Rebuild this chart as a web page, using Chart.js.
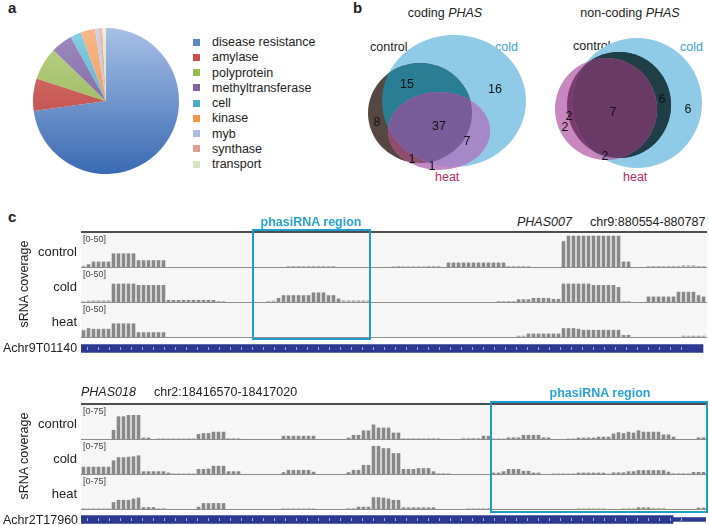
<!DOCTYPE html>
<html>
<head>
<meta charset="utf-8">
<script src="https://cdn.jsdelivr.net/npm/chart.js@4.4.0/dist/chart.umd.min.js"></script>
<style>
  body { margin: 0; background: #fff; }
  #page { position: relative; width: 709px; height: 525px; overflow: hidden;
          font-family: Arial, "Liberation Sans", sans-serif; color: #222; }
  #page canvas, .abs { position: absolute; }
  .txt { position: absolute; white-space: nowrap; line-height: 16px; font-size: 12.5px; }
  .trackbox { position: absolute; background: #f6f6f6; }
  .hline { position: absolute; height: 1px; background: #8c8c8c; }
  .phasi { position: absolute; box-sizing: border-box; border: 2.5px solid #1f9ccf; }
</style>
</head>
<body>
<div id="page"></div>
<script>
// --- DATA ---

// panel a: PHAS gene annotation
const pieLabels = ['disease resistance', 'amylase', 'polyprotein', 'methyltransferase', 'cell', 'kinase', 'myb', 'synthase', 'transport'];
const pieValues = [91, 9, 9, 6, 3, 4, 1, 1, 1];
const pieColors = ['#5b86c6', '#c9504c', '#9bbb59', '#8064a2', '#4bacc6', '#f79646', '#a9bce0', '#e39c94', '#d7e4bd'];
const pieLight  = ['#a8c0e6', '#e07a76', '#bcd58a', '#a08cc0', '#86cfe2', '#f9b889', '#c8d6ef', '#f2bab2', '#e8f0d6'];
const pieDark   = ['#3a6ab4', '#b03c39', '#89a844', '#6a4f90', '#3aa0bc', '#e8843c', '#9fb5dc', '#d98a80', '#c9dba8'];

// panel b: venn counts (control / cold / heat)
const codingCounts    = [15, 16, 8, 37, 7, 1, 1];
const nonCodingCounts = [2, 2, 7, 6, 6, 2];

// panel c: sRNA coverage, 125 bins per locus
const ctrl1 = [
  2,4,8,8,8,8,20,20,20,20,20,10,10,10,10,10,10,0,0,0,0,0,0,0,0,
  0,0,0,0,0,0,0,0,0,0,0,0,0,0,0,0,1.5,1.5,1.5,1.5,1.5,1.5,1.5,1.5,1.5,
  1.5,0,0,0,0,0,0,0,0,0,0,0,1,1.5,1,1,1,1,1,1.5,1.5,1.5,0,6.5,6.5,
  6.5,6.5,6.5,6.5,6.5,6.5,6.5,6.5,6.5,6.5,1.5,1.5,1.5,1.5,1.5,0,0,0,0,0,0,38,46,46,46,
  46,46,46,46,46,46,46,46,8,8,0,0,0,1.5,1.5,1.5,1.5,1.5,1.5,1.5,2.5,2.5,2.5,1.5,1.5
];
const cold1 = [
  1,2,2.5,2.5,2.5,2.5,27,27,27,27,27,25,25,25,25,25,25,3,3,3,3,3,3,3,3,
  3,3,1.5,1.5,0,0,0,0,0,0,0,0,1.5,2,6,10,10,10,10,10,10,14,14,14,10,
  10,5,2.5,2.5,2.5,2.5,2.5,2.5,0,0,0,0,0,0,0,0,0,0,0,0,0,0,0,0,0,
  0,0,0,0,0,0,0,0,1.5,1.5,1.5,1.5,4,4,4,6,6,6,6,4.5,4.5,27,27,27,27,
  27,27,25,25,25,25,25,22,1.5,1.5,0,0,0,8,8,8,8,8,8,15,15,15,15,10,8
];
const heat1 = [
  10,13,12,12,12,12,20,20,20,20,20,7,7,7,7,7,7,0,0,0,0,0,0,0,0,
  0,0,0,0,0,0,0,0,0,0,0,0,0,0,0,0,0,0,0,0,0,0,0,0,0,
  0,0,0,0,0,0,0,0,0,0,0,0,0,0,0,0,0,0,0,0,0,0,0,0,0,
  0,0,0,0,0,0,0,0,0,0,0,0,2,2,5,5,5,5,5,5,5,13,13,13,12,
  10.5,10.5,10.5,10.5,10.5,10.5,10.5,10.5,3,3,0,0,0,0,0,0,0,0,0,0,2,2,2,2,2
];
const ctrl2 = [
  0,0,0,0,0,0,20,50,50,53,53,53,3,3,0,1.5,1.5,1.5,1.5,1.5,1.5,1.5,1.5,11,13,
  13,16,16,16,2,2,2,0,0,0,0,0,0,0,0,7,7,7,7,7,7,7,0,0,0,
  0,0,0,3,9,9,19,19,32,25,25,25,14,14,2,2,2,2,2,2,2,2,0,0,0,
  0,2.5,2.5,2.5,2.5,7,7,1.5,1.5,1.5,3.5,3.5,3.5,9,9,9,9,3.5,3.5,0,0,0,1.5,1.5,3,
  3,3,3,5,5,5,12,15,13,16,14,19,16,16,16,16,10,10,5,0,0,0,0,3.5,3.5
];
const cold2 = [
  16,16,16,16,16,16,30,37,37,38,39,41,6,6,6,6,6,3,1.5,1.5,1.5,1.5,1.5,11,11,
  12,18,18,18,6,6,6,0,0,0,0,0,0,0,0,4,9,9,9,9,9,5,0,0,0,
  0,0,0,4,9,9,20,20,62,62,57,57,46,46,11,11,11,13,13,13,6,2,2,2,0,
  0,0,0,0,0,0,0,3,3,6,11,11,11,7,7,3,3,0,0,1.5,1.5,1.5,1.5,1.5,3,
  3,3,3,3,3,1,3.5,3.5,3.5,6,6,8.5,8.5,8.5,8.5,8.5,8.5,5,2,2,2,2,4.5,4.5,4.5
];
const heat2 = [
  1.5,1.5,1.5,1.5,1.5,1.5,15,20,20,20,23,25,4,4,4,2,2,0,0,0,0,0,0,5,13,
  13,13,13,13,0,0,0,0,0,0,0,0,0,0,0,1.5,1.5,1.5,1.5,1.5,1.5,1.5,0,0,0,
  0,0,0,2,2,5,5,5,26,26,25,23,20,20,3.5,3.5,3.5,3.5,3.5,3.5,3.5,0,0,0,0,
  0,0,1.5,1.5,1.5,1.5,1.5,0,0,0,0,0,0,0,0,0,0,0,0,0,0,0,0,0,1.5,
  1.5,1.5,1.5,1.5,1.5,0,0,0,1.5,1.5,1.5,3.5,3.5,3.5,2.5,2.5,2.5,0,0,0,0,0,0,3,3
];
const trackNames = ['control', 'cold', 'heat'];

// --- LAYOUT HELPERS ---
const page = document.getElementById('page');

function text(html, x, y, opts = {}) {
  const d = document.createElement('div');
  d.className = 'txt';
  d.innerHTML = html;
  d.style.left = x + 'px';
  d.style.top = (y - 8) + 'px';
  if (opts.size) d.style.fontSize = opts.size + 'px';
  if (opts.bold) d.style.fontWeight = 'bold';
  if (opts.color) d.style.color = opts.color;
  if (opts.italic) d.style.fontStyle = 'italic';
  if (opts.align === 'center') d.style.transform = 'translateX(-50%)';
  if (opts.align === 'right') d.style.transform = 'translateX(-100%)';
  if (opts.rotate) d.style.transform = 'translate(-50%, 0) rotate(-90deg)';
  page.appendChild(d);
  return d;
}

function box(cls, x, y, w, h, style = {}) {
  const d = document.createElement('div');
  d.className = cls;
  Object.assign(d.style, { left: x + 'px', top: y + 'px', width: w + 'px', height: h + 'px' }, style);
  page.appendChild(d);
  return d;
}

function canvas(x, y, w, h) {
  const c = document.createElement('canvas');
  c.width = w; c.height = h;
  c.style.left = x + 'px'; c.style.top = y + 'px';
  c.style.width = w + 'px'; c.style.height = h + 'px';
  page.appendChild(c);
  return c;
}

const baseOpts = {
  responsive: false,
  animation: false,
  events: [],
  layout: { padding: 0 },
  plugins: { legend: { display: false }, tooltip: { enabled: false } }
};

// --- PANEL A: pie ---
text('a', 8, 8, { bold: true, size: 15 });

new Chart(canvas(33, 28, 146, 146), {
  type: 'pie',
  data: {
    labels: pieLabels,
    datasets: [{
      data: pieValues,
      borderWidth: 0,
      hoverOffset: 0,
      backgroundColor: ctx => {
        const ca = ctx.chart.chartArea;
        const i = ctx.dataIndex;
        if (!ca) return pieColors[i];
        const g = ctx.chart.ctx.createLinearGradient(0, ca.top, 0, ca.bottom);
        g.addColorStop(0, pieLight[i]);
        g.addColorStop(1, pieDark[i]);
        return g;
      }
    }]
  },
  options: baseOpts
});

pieLabels.forEach((lab, i) => {
  const y = 42 + i * 15.25;
  box('abs', 193, Math.round(y - 3.5), 7, 7, { background: pieColors[i] });
  text(lab, 212, y);
});

// --- PANEL B: venn diagrams ---
text('b', 353, 8, { bold: true, size: 15 });
text('coding <i>PHAS</i>', 445, 13, { align: 'center' });
text('non-coding <i>PHAS</i>', 630, 13, { align: 'center' });
text('control', 370, 47);
text('cold', 495, 47, { color: '#3ea5d3' });
text('heat', 435, 177, { color: '#b22d66' });
text('control', 573, 46);
text('cold', 680, 47, { color: '#3ea5d3' });
text('heat', 623, 177, { color: '#b22d66' });

// ellipse geometry in the venn chart's own units
const vennShapes = [
  { control: { cx: 60, cy: 113, rx: 52, ry: 50 },
    cold:    { cx: 94, cy: 101, rx: 72, ry: 66 },
    heat:    { cx: 79, cy: 131, rx: 51, ry: 39 },
    fills: [
      [['cold'], '#8fcbe7'], [['control'], '#574743'], [['heat'], '#c18ac4'],
      [['control', 'cold'], '#2a7e94'], [['control', 'heat'], '#8e4d6e'],
      [['cold', 'heat'], '#a688c9'], [['control', 'cold', 'heat'], '#7b5c9a']
    ] },
  { control: { cx: 259, cy: 105, rx: 52, ry: 53 },
    cold:    { cx: 277, cy: 103, rx: 65, ry: 65 },
    heat:    { cx: 246, cy: 109, rx: 51, ry: 51 },
    fills: [
      [['cold'], '#8fcbe7'], [['control'], '#2a2a2e'], [['heat'], '#c987c0'],
      [['control', 'cold'], '#1f3e45'], [['control', 'heat'], '#7b3a6c'],
      [['cold', 'heat'], '#9f80b8'], [['control', 'cold', 'heat'], '#6a3a66']
    ] }
];
const codingPos    = [[47, 85], [135, 90], [17, 123], [79, 127], [107, 142], [52, 160], [72, 167]];
const nonCodingPos = [[209, 117], [205, 128], [253, 113], [302, 100], [328, 110], [245, 157]];

const vennPlugin = {
  id: 'venn',
  beforeDatasetsDraw(chart) {
    const { ctx, scales: { x, y } } = chart;
    const path = e => {
      const px = x.getPixelForValue(e.cx), py = y.getPixelForValue(e.cy);
      ctx.beginPath();
      ctx.ellipse(px, py, Math.abs(x.getPixelForValue(e.cx + e.rx) - px),
                  Math.abs(y.getPixelForValue(e.cy + e.ry) - py), 0, 0, Math.PI * 2);
    };
    vennShapes.forEach(v => {
      v.fills.forEach(([sets, color]) => {
        ctx.save();
        sets.slice(0, -1).forEach(s => { path(v[s]); ctx.clip(); });
        path(v[sets[sets.length - 1]]);
        ctx.fillStyle = color;
        ctx.fill();
        ctx.restore();
      });
    });
  },
  afterDatasetsDraw(chart) {
    const { ctx, scales: { x, y } } = chart;
    ctx.save();
    ctx.font = '12.5px Arial, "Liberation Sans", sans-serif';
    ctx.fillStyle = '#111';
    ctx.textAlign = 'center';
    ctx.textBaseline = 'middle';
    chart.data.datasets.forEach(ds => ds.data.forEach(p => {
      ctx.fillText(String(p.v), x.getPixelForValue(p.x), y.getPixelForValue(p.y));
    }));
    ctx.restore();
  }
};

const toPoints = (counts, pos) => counts.map((v, i) => ({ x: pos[i][0], y: pos[i][1], v }));

new Chart(canvas(360, 0, 349, 190), {
  type: 'scatter',
  data: {
    datasets: [
      { data: toPoints(codingCounts, codingPos), pointRadius: 0 },
      { data: toPoints(nonCodingCounts, nonCodingPos), pointRadius: 0 }
    ]
  },
  options: {
    ...baseOpts,
    scales: {
      x: { display: false, min: 0, max: 349 },
      y: { display: false, min: 0, max: 190, reverse: true }
    }
  },
  plugins: [vennPlugin]
});

// --- PANEL C: coverage tracks ---
text('c', 8, 217, { bold: true, size: 15 });

function trackChart(x, y, values, max) {
  new Chart(canvas(x, y, 625, 34), {
    type: 'bar',
    data: {
      labels: values.map((_, i) => i),
      datasets: [{
        data: values,
        borderWidth: 0,
        categoryPercentage: 1,
        barPercentage: 0.72,
        backgroundColor: c => (c.raw < 3 ? '#b2b2b2' : '#888888')
      }]
    },
    options: {
      ...baseOpts,
      scales: { x: { display: false }, y: { display: false, min: 0, max: max } }
    }
  });
}

const geneTicks = {
  id: 'geneTicks',
  afterDatasetsDraw(chart) {
    const { ctx, scales: { x }, chartArea } = chart;
    const cy = (chartArea.top + chartArea.bottom) / 2;
    ctx.save();
    ctx.strokeStyle = 'rgba(185,195,240,0.85)';
    ctx.lineWidth = 1;
    for (let v = 1.2; v < 122; v += 2.2) {
      const px = Math.round(x.getPixelForValue(v)) + 0.5;
      ctx.beginPath();
      ctx.moveTo(px, cy - 1.5);
      ctx.lineTo(px, cy + 1.5);
      ctx.stroke();
    }
    ctx.restore();
  }
};

function geneChart(y, thickEnd, thinEnd) {
  const datasets = [{ data: [[0, thickEnd]], barThickness: 8, grouped: false, backgroundColor: '#2b3990' }];
  if (thinEnd) datasets.push({ data: [[thickEnd, thinEnd]], barThickness: 4, grouped: false, backgroundColor: '#2b3990' });
  new Chart(canvas(81, y, 625, 9), {
    type: 'bar',
    data: { labels: ['gene'], datasets },
    options: {
      ...baseOpts,
      indexAxis: 'y',
      scales: { x: { display: false, min: 0, max: 125 }, y: { display: false } }
    },
    plugins: [geneTicks]
  });
}

function locus(top, tracks, max, rangeLabel) {
  // top = y of the dark top rule
  box('trackbox', 81, top, 626, 107);
  box('abs', 81, top, 626, 2, { background: '#4d4d4d' });
  const rows = [top + 2, top + 37, top + 72];
  rows.forEach((ry, i) => {
    trackChart(81, ry, tracks[i], max);
    box('hline', 81, ry + 34, 626, 1);
    text(rangeLabel, 83, ry + 6, { size: 9, color: '#444' });
    text(trackNames[i], 77, ry + 19, { size: 13, align: 'right' });
  });
  text('sRNA coverage', 24, top + 53, { size: 12.5, rotate: true });
}

// locus 1: PHAS007
text('<i>PHAS007</i>', 517, 222);
text('chr9:880554-880787', 590, 222);
locus(231, [ctrl1, cold1, heat1], 50, '[0-50]');
geneChart(344, 124.4, 0);
text('Achr9T01140', 3, 348);
box('phasi', 252, 229, 119, 111);
text('phasiRNA region', 311, 222, { bold: true, color: '#2aa2d4', align: 'center' });

// locus 2: PHAS018
text('<i>PHAS018</i>', 81, 392);
text('chr2:18416570-18417020', 154, 392);
locus(403, [ctrl2, cold2, heat2], 75, '[0-75]');
geneChart(515, 118.4, 125);
text('Achr2T17960', 3, 520);
box('phasi', 490, 401, 218, 112);
text('phasiRNA region', 600, 393, { bold: true, color: '#2aa2d4', align: 'center' });
</script>
</body>
</html>
